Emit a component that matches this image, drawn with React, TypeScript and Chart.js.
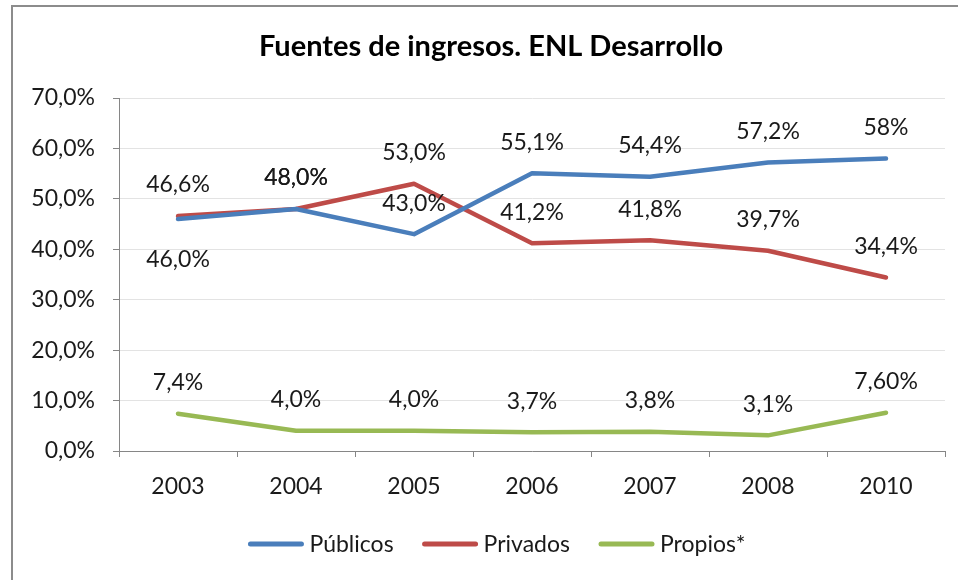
import React, { useEffect, useRef } from "react";
import { Chart, registerables } from "chart.js";

Chart.register(...registerables);

const categories = ["2003", "2004", "2005", "2006", "2007", "2008", "2010"];
const publicos = [46.0, 48.0, 43.0, 55.1, 54.4, 57.2, 58];
const privados = [46.6, 48.0, 53.0, 41.2, 41.8, 39.7, 34.4];
const propios = [7.4, 4.0, 4.0, 3.7, 3.8, 3.1, 7.6];
const publicosLabels = ["46,0%", "48,0%", "43,0%", "55,1%", "54,4%", "57,2%", "58%"];
const privadosLabels = ["46,6%", "48,0%", "53,0%", "41,2%", "41,8%", "39,7%", "34,4%"];
const propiosLabels = ["7,4%", "4,0%", "4,0%", "3,7%", "3,8%", "3,1%", "7,60%"];
const publicosLabelPos = ["below", "above", "above", "above", "above", "above", "above"];
const privadosLabelPos = ["above", "above", "above", "above", "above", "above", "above"];
const propiosLabelPos = ["above", "above", "above", "above", "above", "above", "above"];
const seriesNames = ["Públicos", "Privados", "Propios*"];
const seriesColors = ["#4A7EBB", "#BE4B48", "#98B954"];
const titleText = "Fuentes de ingresos. ENL Desarrollo";

const FONT = "Lato, 'Open Sans', sans-serif";

export default function App() {
  const ref = useRef<HTMLCanvasElement | null>(null);

  useEffect(() => {
    const canvas = ref.current;
    if (!canvas) return;
    const labelSets = [publicosLabels, privadosLabels, propiosLabels];
    const posSets = [publicosLabelPos, privadosLabelPos, propiosLabelPos];

    const overlay = {
      id: "overlay",
      afterDatasetsDraw(chart: any) {
        const ctx = chart.ctx;
        ctx.save();
        // data labels
        ctx.font = `23px ${FONT}`;
        ctx.fillStyle = "#1a1a1a";
        ctx.textAlign = "center";
        ctx.textBaseline = "middle";
        chart.data.datasets.forEach((ds: any, di: number) => {
          const meta = chart.getDatasetMeta(di);
          meta.data.forEach((pt: any, i: number) => {
            const pos = posSets[di][i];
            const y = pos === "below" ? pt.y + 41 : pt.y - 31;
            ctx.fillText(labelSets[di][i], pt.x, y);
          });
        });
        // title
        ctx.font = `bold 29px ${FONT}`;
        ctx.fillStyle = "#000";
        ctx.fillText(titleText, 491, 47);
        // legend
        ctx.font = `23px ${FONT}`;
        const lineW = 55;
        const gapAfterLine = 6;
        const gapBetween = 29;
        const widths = seriesNames.map((n) => ctx.measureText(n).width);
        const total =
          widths.reduce((a, b) => a + b, 0) +
          seriesNames.length * (lineW + gapAfterLine) +
          (seriesNames.length - 1) * gapBetween;
        let x = 497 - total / 2;
        const ly = 544;
        ctx.textAlign = "left";
        seriesNames.forEach((n, i) => {
          ctx.strokeStyle = seriesColors[i];
          ctx.lineWidth = 5;
          ctx.lineCap = "round";
          ctx.beginPath();
          ctx.moveTo(x + 2, ly);
          ctx.lineTo(x + lineW - 2, ly);
          ctx.stroke();
          x += lineW + gapAfterLine;
          ctx.fillStyle = "#1a1a1a";
          ctx.fillText(n, x, ly + 1);
          x += widths[i] + gapBetween;
        });
        ctx.restore();
      },
    };

    const chart = new Chart(canvas, {
      type: "line",
      data: {
        labels: categories,
        datasets: [publicos, privados, propios].map((d, i) => ({
          label: seriesNames[i],
          data: d,
          borderColor: seriesColors[i],
          backgroundColor: seriesColors[i],
          borderWidth: 4.5,
          pointRadius: 0,
          tension: 0,
          borderCapStyle: "round" as const,
          borderJoinStyle: "round" as const,
        })),
      },
      options: {
        animation: false,
        responsive: false,
        devicePixelRatio: 1,
        layout: { padding: { left: 14, right: 13, top: 98, bottom: 0 } },
        plugins: {
          legend: { display: false },
          title: { display: false },
          tooltip: { enabled: false },
        },
        scales: {
          x: {
            offset: true,
            grid: {
              offset: true,
              drawOnChartArea: false,
              drawTicks: true,
              tickLength: 6,
              color: "#868686",
            },
            border: { color: "#868686", width: 1 },
            ticks: {
              color: "#1a1a1a",
              font: { size: 23, family: FONT },
              padding: 16,
              maxRotation: 0,
            },
            afterFit(scale: any) {
              scale.height = 129;
            },
          },
          y: {
            min: 0,
            max: 70,
            grid: {
              color: "#e3e3e3",
              tickLength: 6,
              tickColor: "#868686",
            },
            border: { color: "#868686", width: 1 },
            ticks: {
              stepSize: 10,
              color: "#1a1a1a",
              font: { size: 23, family: FONT },
              padding: 18,
              callback: (v: any) => Number(v).toFixed(1).replace(".", ",") + "%",
            },
            afterFit(scale: any) {
              scale.width = 105;
            },
          },
        },
      },
      plugins: [overlay],
    });
    return () => chart.destroy();
  }, []);

  return (
    <div
      style={{
        position: "fixed",
        left: 0,
        top: 0,
        width: 958,
        height: 580,
        overflow: "hidden",
        background: "#fff",
      }}
    >
      <div
        style={{
          position: "absolute",
          left: 11,
          top: 5,
          width: 1200,
          height: 1200,
          borderLeft: "2px solid #8c8c8c",
          borderTop: "2px solid #8c8c8c",
          boxSizing: "border-box",
        }}
      />
      <canvas
        ref={ref}
        width={958}
        height={580}
        style={{ position: "absolute", left: 0, top: 0, width: 958, height: 580 }}
      />
    </div>
  );
}
